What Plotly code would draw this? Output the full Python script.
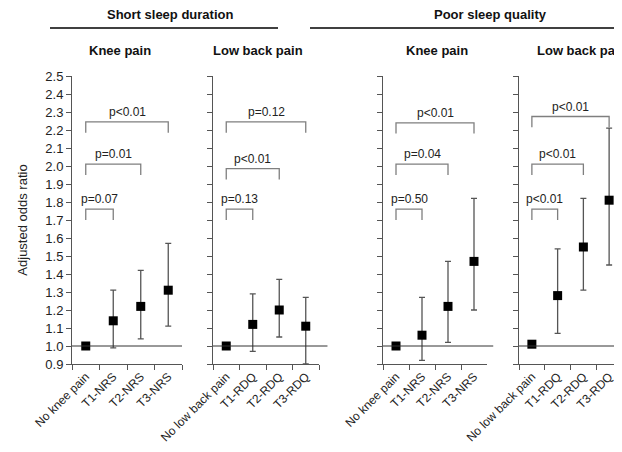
import plotly.graph_objects as go

# ---------------- data ----------------
knee_categories = ["No knee pain", "T1-NRS", "T2-NRS", "T3-NRS"]
lbp_categories = ["No low back pain", "T1-RDQ", "T2-RDQ", "T3-RDQ"]

group_titles = ["Short sleep duration", "Poor sleep quality"]
panel_titles = ["Knee pain", "Low back pain", "Knee pain", "Low back pain"]

short_knee_or = [1.00, 1.14, 1.22, 1.31]
short_knee_lo = [1.00, 0.99, 1.04, 1.11]
short_knee_hi = [1.00, 1.31, 1.42, 1.57]

short_lbp_or = [1.00, 1.12, 1.20, 1.11]
short_lbp_lo = [1.00, 0.97, 1.05, 0.90]
short_lbp_hi = [1.00, 1.29, 1.37, 1.27]

poor_knee_or = [1.00, 1.06, 1.22, 1.47]
poor_knee_lo = [1.00, 0.92, 1.02, 1.20]
poor_knee_hi = [1.00, 1.27, 1.47, 1.82]

poor_lbp_or = [1.01, 1.28, 1.55, 1.81]
poor_lbp_lo = [1.01, 1.07, 1.31, 1.45]
poor_lbp_hi = [1.01, 1.54, 1.82, 2.21]

short_knee_p = ["p=0.07", "p=0.01", "p<0.01"]
short_lbp_p = ["p=0.13", "p<0.01", "p=0.12"]
poor_knee_p = ["p=0.50", "p=0.04", "p<0.01"]
poor_lbp_p = ["p<0.01", "p<0.01", "p<0.01"]

y_ticks = [round(0.9 + 0.1 * i, 1) for i in range(17)]

# ---------------- layout constants (screen pixels; page has 8px body margin) ----------------
W, H = 622, 452
OFF = 8
PLOT_L, PLOT_R, PLOT_T, PLOT_B = 72, 630, 76, 364   # screen coords of plot area
ML = PLOT_L - OFF
MR = W - (PLOT_R - OFF)
MT = PLOT_T - OFF
MB = H - (PLOT_B - OFF)
PW = W - ML - MR
PH = H - MT - MB
FONT = "Liberation Sans, Arial, sans-serif"


def px_x(x):
    return (x - OFF - ML) / PW


def px_y(y):
    return (H - MB - (y - OFF)) / PH


panel_px = [(72, 182), (213, 319), (383, 487), (519, 622)]
title_px = [120, 258, 437, 582]
bracket_levels = [[1.76, 2.01, 2.245], [1.76, 1.985, 2.245],
                  [1.76, 2.01, 2.24], [1.76, 2.01, 2.275]]
refline_end = [1.0, 1.08, 1.06, 1.0]
LEG = 0.06

panels = [
    (knee_categories, short_knee_or, short_knee_lo, short_knee_hi, short_knee_p),
    (lbp_categories, short_lbp_or, short_lbp_lo, short_lbp_hi, short_lbp_p),
    (knee_categories, poor_knee_or, poor_knee_lo, poor_knee_hi, poor_knee_p),
    (lbp_categories, poor_lbp_or, poor_lbp_lo, poor_lbp_hi, poor_lbp_p),
]

fig = go.Figure()
shapes = []
annotations = []

for i, (cats, orv, lo, hi, pv) in enumerate(panels):
    n = i + 1
    xa = "x" if n == 1 else f"x{n}"
    ya = "y" if n == 1 else f"y{n}"
    # brackets
    for k, (lvl, lab) in enumerate(zip(bracket_levels[i], pv)):
        c0, c1 = cats[0], cats[k + 1]
        fig.add_trace(go.Scatter(
            x=[c0, c0, c1, c1], y=[lvl - LEG, lvl, lvl, lvl - LEG],
            mode="lines", line=dict(color="#7f7f7f", width=1.3),
            xaxis=xa, yaxis=ya, showlegend=False, hoverinfo="skip"))
        annotations.append(dict(
            x=(k + 1) / 2, y=lvl, xref=xa, yref=ya, text=lab,
            showarrow=False, yanchor="bottom", yshift=1,
            font=dict(family=FONT, size=12, color="#222")))
    # points with CI
    fig.add_trace(go.Scatter(
        x=cats, y=orv, mode="markers",
        marker=dict(symbol="square", size=9, color="black"),
        error_y=dict(type="data", symmetric=False,
                     array=[h - o for h, o in zip(hi, orv)],
                     arrayminus=[o - l for o, l in zip(orv, lo)],
                     color="#555555", thickness=1.3, width=3),
        xaxis=xa, yaxis=ya, showlegend=False))
    # reference line at 1.0
    shapes.append(dict(type="line", xref=f"{xa} domain", yref=ya,
                       x0=0, x1=refline_end[i], y0=1.0, y1=1.0,
                       line=dict(color="#333", width=1)))
    x0p, x1p = panel_px[i]
    dom = [px_x(x0p), px_x(x1p)]
    fig.layout[f"xaxis{'' if n == 1 else n}"] = dict(
        domain=dom, anchor=ya, type="category", range=[-0.5, 3.5],
        showline=True, linecolor="#555", linewidth=1,
        ticks="outside", ticklen=5, tickcolor="#555", tickson="boundaries",
        tickangle=-45, tickfont=dict(family=FONT, size=12, color="#222"),
        showgrid=False, zeroline=False, fixedrange=True)
    fig.layout[f"yaxis{'' if n == 1 else n}"] = dict(
        anchor=xa, range=[0.9, 2.5], tickvals=y_ticks,
        ticktext=[f"{v:.1f}" for v in y_ticks],
        showticklabels=(n == 1),
        showline=True, linecolor="#555", linewidth=1,
        ticks="outside", ticklen=5, tickcolor="#555",
        tickfont=dict(family=FONT, size=13, color="#222"),
        showgrid=False, zeroline=False, fixedrange=True,
        title=dict(text="Adjusted odds ratio" if n == 1 else "",
                   font=dict(family=FONT, size=13, color="#222"), standoff=14))
    # panel title
    annotations.append(dict(
        x=px_x(title_px[i]), y=px_y(51), xref="paper", yref="paper",
        text=f"<b>{panel_titles[i]}</b>", showarrow=False,
        xanchor="center", yanchor="middle",
        font=dict(family=FONT, size=13, color="#111")))

# group headers with underline
group_line_px = [(50, 278), (310, 640)]
group_text_px = [170, 490]
for title, (gx0, gx1), tx in zip(group_titles, group_line_px, group_text_px):
    annotations.append(dict(
        x=px_x(tx), y=px_y(15), xref="paper", yref="paper",
        text=f"<b>{title}</b>", showarrow=False,
        xanchor="center", yanchor="middle",
        font=dict(family=FONT, size=13, color="#111")))
    shapes.append(dict(type="line", xref="paper", yref="paper",
                       x0=px_x(gx0), x1=px_x(gx1), y0=px_y(28), y1=px_y(28),
                       line=dict(color="black", width=1.5)))

fig.update_layout(
    width=W, height=H, margin=dict(l=ML, r=MR, t=MT, b=MB),
    paper_bgcolor="white", plot_bgcolor="white",
    shapes=shapes, annotations=annotations, showlegend=False,
    font=dict(family=FONT),
)

fig.write_html("out.html")
